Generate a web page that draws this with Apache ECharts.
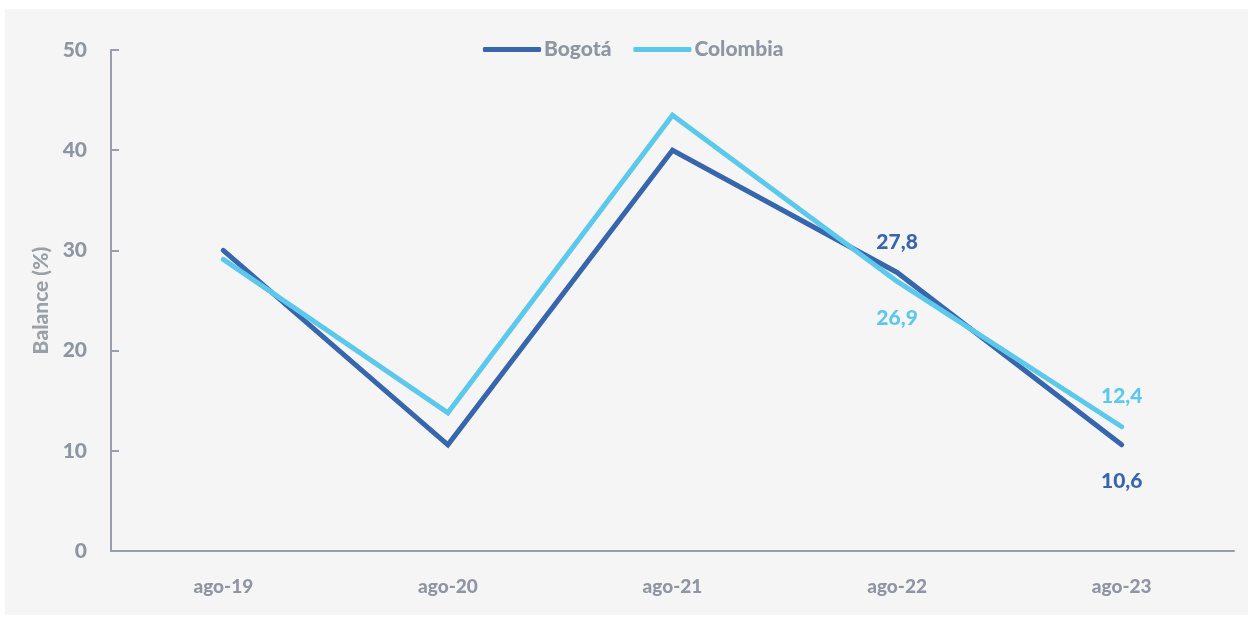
<!DOCTYPE html>
<html>
<head>
<meta charset="utf-8">
<script src="https://cdn.jsdelivr.net/npm/echarts@6/dist/echarts.min.js"></script>
<style>
html,body{margin:0;padding:0;background:#ffffff;}
#bg{position:absolute;left:5px;top:9px;width:1243px;height:606px;background:#f5f5f5;}
#chart{position:absolute;left:0;top:0;width:1248px;height:624px;}
</style>
</head>
<body>
<div id="bg"></div>
<div id="chart"></div>
<script>
const categories = ['ago-19', 'ago-20', 'ago-21', 'ago-22', 'ago-23'];
const bogota = [30.0, 10.6, 40.0, 27.8, 10.6];
const colombia = [29.1, 13.8, 43.5, 26.9, 12.4];
const yTicks = [0, 10, 20, 30, 40, 50];
const bogotaLabelPos = [null, null, null, 'top', 'bottom'];
const colombiaLabelPos = [null, null, null, 'bottom', 'top'];

const gray = '#8e96a3';
const fontFamily = 'Lato, "Open Sans", sans-serif';
const blue = '#3766ac';
const cyan = '#5bc8ec';

function buildData(values, positions, color) {
  return values.map((v, i) => positions[i]
    ? { value: v, label: { show: true, position: positions[i],
        distance: positions[i] === 'top' ? 19 : 25, color: color,
        fontSize: 21, fontWeight: 900, fontFamily: fontFamily,
        formatter: p => String(p.value).replace('.', ',') } }
    : { value: v, label: { show: false } });
}

const chart = echarts.init(document.getElementById('chart'));
chart.setOption({
  backgroundColor: 'transparent',
  animation: false,
  grid: { left: 111, right: 14, top: 50, bottom: 73 },
  legend: {
    left: 478, top: 34,
    itemWidth: 58, itemHeight: 5, itemGap: 22,
    icon: 'roundRect',
    textStyle: { color: gray, fontSize: 21, fontWeight: 900, fontFamily: fontFamily, padding: [0, 0, 0, -2] },
    data: ['Bogotá', 'Colombia']
  },
  xAxis: {
    type: 'category',
    data: categories,
    boundaryGap: true,
    axisLine: { lineStyle: { color: '#9aa0ab', width: 2 } },
    axisTick: { show: false },
    axisLabel: { color: gray, fontSize: 19, fontWeight: 900, fontFamily: fontFamily, margin: 26 }
  },
  yAxis: {
    type: 'value',
    min: yTicks[0], max: yTicks[yTicks.length - 1], interval: 10,
    name: 'Balance (%)',
    nameLocation: 'middle',
    nameGap: 58,
    nameTextStyle: { color: '#9aa0a8', fontSize: 21, fontWeight: 900, fontFamily: fontFamily },
    axisLine: { show: true, lineStyle: { color: '#9aa0ab', width: 2 } },
    axisTick: { show: true, inside: true, length: 8, lineStyle: { color: '#9aa0ab', width: 2 } },
    splitLine: { show: false },
    axisLabel: { color: gray, fontSize: 21, fontWeight: 900, fontFamily: fontFamily, margin: 24 }
  },
  series: [
    {
      name: 'Bogotá', type: 'line', showSymbol: true, symbol: 'circle', symbolSize: 2,
      itemStyle: { color: blue },
      data: buildData(bogota, bogotaLabelPos, blue),
      lineStyle: { width: 5, color: blue, cap: 'round', join: 'miter' },
      emphasis: { disabled: true },
      z: 2
    },
    {
      name: 'Colombia', type: 'line', showSymbol: true, symbol: 'circle', symbolSize: 2,
      itemStyle: { color: cyan },
      data: buildData(colombia, colombiaLabelPos, cyan),
      lineStyle: { width: 5, color: cyan, cap: 'round', join: 'miter' },
      emphasis: { disabled: true },
      z: 3
    }
  ]
});
</script>
</body>
</html>
